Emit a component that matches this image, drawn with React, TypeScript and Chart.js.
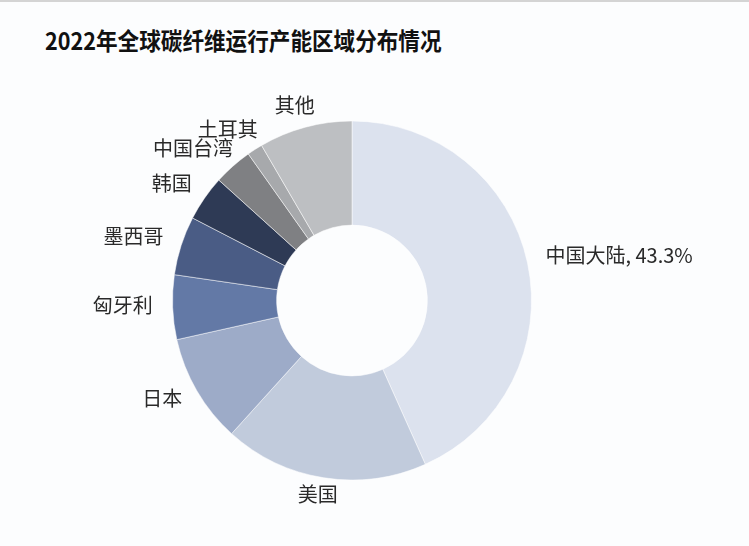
import { useEffect, useRef } from "react";
import { Chart } from "chart.js/auto";

const regions = ["中国大陆", "美国", "日本", "匈牙利", "墨西哥", "韩国", "中国台湾", "土耳其", "其他"];
const shares = [43.3, 18.4, 9.8, 5.8, 5.3, 4.1, 3.5, 1.4, 8.4];
const colors = ["#dce2ee", "#c1cbdc", "#9dabc8", "#6379a6", "#4a5c85", "#2e3a55", "#7f8083", "#a7a9ac", "#bdbfc2"];
// only the first slice shows its share in the reference
const showPct = [true, false, false, false, false, false, false, false, false];

const FONT = '"Noto Sans CJK SC", "Noto Sans", sans-serif';

const outerLabels = {
  id: "outerLabels",
  afterDatasetsDraw(chart: Chart) {
    const ctx = chart.ctx;
    const meta = chart.getDatasetMeta(0);
    ctx.save();
    ctx.font = `20px ${FONT}`;
    ctx.fillStyle = "#2a2a2a";
    ctx.textBaseline = "middle";
    meta.data.forEach((el: any, i: number) => {
      const { x, y, startAngle, endAngle, outerRadius } = el.getProps(
        ["x", "y", "startAngle", "endAngle", "outerRadius"],
        true
      );
      const mid = (startAngle + endAngle) / 2;
      const r = outerRadius + 20;
      const px = x + Math.cos(mid) * r;
      const py = y + Math.sin(mid) * r;
      const text = showPct[i] ? `${regions[i]}, ${shares[i]}%` : regions[i];
      const w = ctx.measureText(text).width;
      const c = Math.cos(mid);
      const left = px - (w * (1 - c)) / 2;
      ctx.textAlign = "left";
      ctx.fillText(text, left, py - 3);
    });
    ctx.restore();
  },
};

export default function App() {
  const ref = useRef<HTMLCanvasElement>(null);

  useEffect(() => {
    if (!ref.current) return;
    const chart = new Chart(ref.current, {
      type: "doughnut",
      data: {
        labels: regions,
        datasets: [
          {
            data: shares,
            backgroundColor: colors,
            borderColor: "rgba(255,255,255,0.5)",
            borderWidth: 1,
          },
        ],
      },
      options: {
        animation: false,
        responsive: false,
        cutout: "42%",
        layout: { padding: { top: 120, bottom: 65, left: 172, right: 217 } },
        plugins: {
          legend: { display: false },
          title: { display: false },
          tooltip: { enabled: false },
        },
      },
      plugins: [outerLabels],
    });
    return () => chart.destroy();
  }, []);

  return (
    <div style={{ position: "fixed", left: 0, top: 0, width: 749, height: 546, background: "#fcfdfe", overflow: "hidden" }}>
      <div style={{ position: "absolute", left: 0, top: 0, width: 749, height: 2, background: "#d4d4d4" }} />
      <div
        style={{
          position: "absolute",
          left: 45,
          top: 23,
          fontFamily: FONT,
          fontWeight: 700,
          fontSize: 24,
          lineHeight: "34px",
          color: "#111",
          whiteSpace: "nowrap",
          transform: "scaleX(0.9)",
          transformOrigin: "left center",
        }}
      >
        2022年全球碳纤维运行产能区域分布情况
      </div>
      <canvas ref={ref} width={749} height={546} style={{ position: "absolute", left: 0, top: 0 }} />
    </div>
  );
}
